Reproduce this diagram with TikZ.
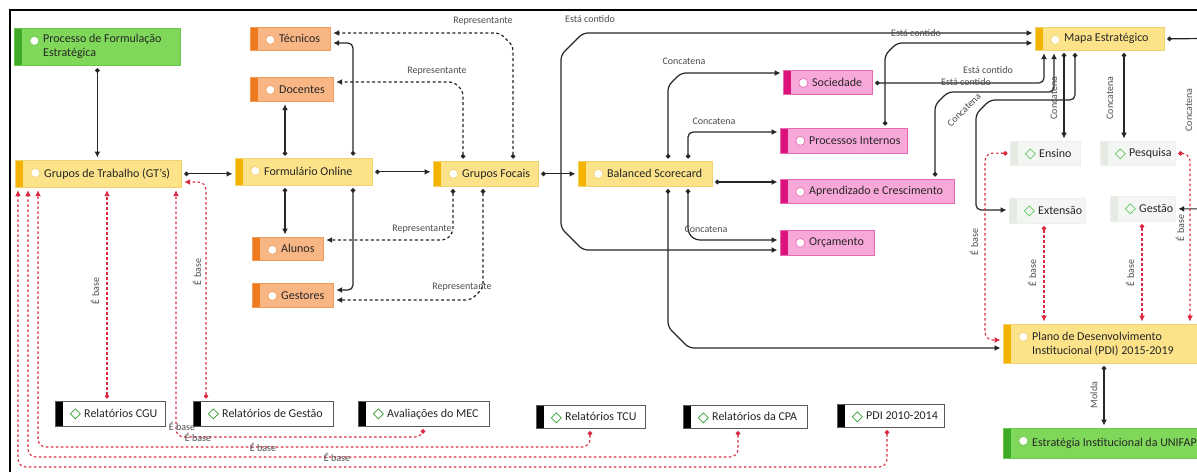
\documentclass[tikz,border=0pt]{standalone}
\usepackage{fontspec}
\setmainfont{Carlito}
\usetikzlibrary{arrows.meta}
\definecolor{yfill}{HTML}{FCE38A}
\definecolor{ystrip}{HTML}{F3B300}
\definecolor{yborder}{HTML}{F0D26E}
\definecolor{ofill}{HTML}{F8B684}
\definecolor{ostrip}{HTML}{EF7A1E}
\definecolor{oborder}{HTML}{F09C5C}
\definecolor{gfill}{HTML}{80D85A}
\definecolor{gstrip}{HTML}{3FAA2A}
\definecolor{gborder}{HTML}{6CC84B}
\definecolor{pfill}{HTML}{F8A8D8}
\definecolor{pstrip}{HTML}{DE127D}
\definecolor{pborder}{HTML}{E468B2}
\definecolor{lfill}{HTML}{F4F6F3}
\definecolor{lstrip}{HTML}{E5EBE3}
\definecolor{lborder}{HTML}{EEF0EE}
\definecolor{redc}{HTML}{DC2840}
\tikzset{
  wh/.style 2 args={minimum width=#1pt, minimum height=#2pt},
  btxt/.style={anchor=west, xshift=29pt, align=left, inner sep=0pt,
    font=\fontsize{12}{14}\selectfont, text=black!85},
  lab/.style={label={[btxt]west:{#1}}},
  cbx/.style n args={3}{rectangle, anchor=north west, inner sep=0pt, fill=#1, draw=#3, line width=0.7pt,
    path picture={
      \fill[#2] (path picture bounding box.south west) rectangle ([xshift=8pt]path picture bounding box.north west);
      \filldraw[fill=white, draw=#3, line width=0.6pt] ([xshift=20pt,yshift=-12.5pt]path picture bounding box.north west) circle (4.5pt);
    }},
  dbx/.style n args={4}{rectangle, anchor=north west, inner sep=0pt, fill=#1, draw=#3, line width=0.7pt,
    path picture={
      \fill[#2] (path picture bounding box.south west) rectangle ([xshift=8pt]path picture bounding box.north west);
      \coordinate (ic) at ([xshift=20pt,yshift=-12.5pt]path picture bounding box.north west);
      \draw[#4, line width=0.6pt] ([yshift=5pt]ic) -- ([xshift=5pt]ic) -- ([yshift=-5pt]ic) -- ([xshift=-5pt]ic) -- cycle;
    }},
  ybox/.style={cbx={yfill}{ystrip}{yborder}},
  obox/.style={cbx={ofill}{ostrip}{oborder}},
  gbox/.style={cbx={gfill}{gstrip}{gborder}},
  pbox/.style={cbx={pfill}{pstrip}{pborder}},
  wbox/.style={dbx={white}{black}{black!65}{green!55!black}},
  lbox/.style={dbx={lfill}{lstrip}{lborder}{green!50!gray}},
  con/.style={draw=black!85, line width=1.2pt, {Circle[length=4.5pt]}-{Latex[length=6pt,width=6pt]},
    shorten <=2.5pt, shorten >=2.5pt, rounded corners=5pt},
  con2/.style={con, {Latex[length=6pt,width=6pt]}-{Latex[length=6pt,width=6pt]}},
  rep/.style={con, dash pattern=on 3pt off 2.5pt},
  bas/.style={con, draw=redc, line width=1.1pt, dash pattern=on 2.5pt off 2.5pt, rounded corners=8pt},
  lbl/.style={font=\fontsize{10}{11}\selectfont, text=black!70, inner sep=0.5pt},
  vlbl/.style={lbl, rotate=90},
}
\begin{document}
\begin{tikzpicture}[x=1pt,y=-1pt]
\useasboundingbox (0,0) rectangle (1197,472);
\clip (0,0) rectangle (1197,472);
\draw[line width=2pt] (10,472) -- (10,10) -- (1197,10);

% nodes
\node[gbox, wh={166}{37}, lab={Processo de Formulação\\Estratégica}] (proc) at (14,28) {};
\node[obox, wh={80}{23}, lab={Técnicos}] (tec) at (250,27) {};
\node[obox, wh={83}{24}, lab={Docentes}] (doc) at (250,77) {};
\node[ybox, wh={166}{27}, lab={Grupos de Trabalho (GT’s)}] (gt) at (15,160) {};
\node[ybox, wh={137}{27}, lab={Formulário Online}] (form) at (235,158) {};
\node[ybox, wh={105}{25}, lab={Grupos Focais}] (gf) at (433,161) {};
\node[obox, wh={71}{23}, lab={Alunos}] (alunos) at (252,237) {};
\node[obox, wh={81}{24}, lab={Gestores}] (gest) at (252,283) {};
\node[ybox, wh={134}{25}, lab={Balanced Scorecard}] (bsc) at (578,161) {};
\node[pbox, wh={89}{24}, lab={Sociedade}] (soc) at (783,70) {};
\node[pbox, wh={127}{25}, lab={Processos Internos}] (pint) at (780,128) {};
\node[pbox, wh={174}{24}, lab={Aprendizado e Crescimento}] (apr) at (780,179) {};
\node[pbox, wh={94}{25}, lab={Orçamento}] (orc) at (780,230) {};
\node[ybox, wh={129}{23}, lab={Mapa Estratégico}] (mapa) at (1035,27) {};
\node[lbox, wh={70}{24}, lab={Ensino}] (ensino) at (1010,141) {};
\node[lbox, wh={75}{24}, lab={Pesquisa}] (pesq) at (1100,141) {};
\node[lbox, wh={76}{25}, lab={Extensão}] (ext) at (1009,198) {};
\node[lbox, wh={65}{25}, lab={Gestão}] (gestao) at (1110,196) {};
\node[ybox, wh={220}{39}, lab={Plano de Desenvolvimento\\Institucional (PDI) 2015-2019}] (pdi) at (1003,324) {};
\node[gbox, wh={220}{30}, lab={Estratégia Institucional da UNIFAP}] (estr) at (1003,428) {};
\node[wbox, wh={110}{25}, lab={Relatórios CGU}] (cgu) at (55,401) {};
\node[wbox, wh={140}{25}, lab={Relatórios de Gestão}] (rg) at (193,401) {};
\node[wbox, wh={131}{25}, lab={Avaliações do MEC}] (mec) at (358,401) {};
\node[wbox, wh={109}{23}, lab={Relatórios TCU}] (tcu) at (536,405) {};
\node[wbox, wh={124}{23}, lab={Relatórios da CPA}] (cpa) at (683,405) {};
\node[wbox, wh={107}{23}, lab={PDI 2010-2014}] (pdio) at (837,404) {};

% ports
\coordinate (fT1) at ([xshift=50pt]form.north west);
\coordinate (fT2) at ([xshift=118pt]form.north west);
\coordinate (fB1) at ([xshift=50pt]form.south west);
\coordinate (fB2) at ([xshift=118pt]form.south west);
\coordinate (gT1) at ([xshift=30pt]gf.north west);
\coordinate (gT2) at ([xshift=80pt]gf.north west);
\coordinate (gB1) at ([xshift=20pt]gf.south west);
\coordinate (gB2) at ([xshift=50pt]gf.south west);
\coordinate (bT1) at ([xshift=90pt]bsc.north west);
\coordinate (bT2) at ([xshift=110pt]bsc.north west);
\coordinate (bB1) at ([xshift=90pt]bsc.south west);
\coordinate (bB2) at ([xshift=110pt]bsc.south west);
\coordinate (bR) at ([yshift=-21pt]bsc.north east);
\coordinate (mB3) at ([xshift=29pt]mapa.south west);
\coordinate (mB5) at ([xshift=89pt]mapa.south west);
\coordinate (eB) at ([xshift=35pt]ext.south west);
\coordinate (gsB) at ([xshift=32pt]gestao.south west);
\coordinate (cT) at ([xshift=52pt]cgu.north west);
\coordinate (pB) at ([xshift=101pt]pdi.south west);

% black connectors
\draw[con] (proc.south) -- (proc.south |- gt.north);
\draw[con] (gt.east) -- (gt.east -| form.west);
\draw[con] (fT1) -- (fT1 |- doc.south);
\draw[con] (fT2) |- ([yshift=-16pt]tec.north east);
\draw[con] (fB1) -- (fB1 |- alunos.north);
\draw[con] (fB2) |- ([yshift=-7pt]gest.north east);
\draw[con] (form.east) -- (form.east -| gf.west);
\draw[con] (gf.east) -- (gf.east -| bsc.west);

% Representante
\draw[rep] (gT2) -- (513,46) -- (500,33) -- ([yshift=-6pt]tec.north east);
\draw[rep] (gT1) -- (463,91) -- (454,82) -- ([yshift=-5pt]doc.north east);
\draw[rep] (gB1) -- (453,233) -- (446,240) -- ([yshift=-3pt]alunos.north east);
\draw[rep] (gB2) -- (483,288) -- (471,300) -- ([yshift=-17pt]gest.north east);
\node[lbl] (r1) at (483,21) {Representante};
\node[lbl] (r2) at (437,71) {Representante};
\node[lbl] (r3) at (422,229) {Representante};
\node[lbl] (r4) at (462,287) {Representante};

% BSC
\draw[con] (bT1) -- (668,86) -- (681,73) -- ([yshift=-3pt]soc.north west);
\draw[con] (bT2) |- ([yshift=-4pt]pint.north west);
\draw[con] (bR) -- (bR -| apr.west);
\draw[con] (bB2) -- (688,233) -- (695,240) -- ([yshift=-10pt]orc.north west);
\draw[con] (bB1) -- (668,327) -- (689,348) -- ([yshift=-24pt]pdi.north west);
\node[lbl] (c1) at (684,61) {Concatena};
\node[lbl] (c2) at (714,121) {Concatena};
\node[lbl] (c3) at (706,229) {Concatena};

% Está contido
\draw[con2] ([yshift=-20pt]orc.north west) -- (583,250) -- (561,228) -- (561,55) -- (583,33) -- ([yshift=-6pt]mapa.north west);
\draw[con] ([xshift=105pt]pint.north west) -- (885,55) -- (897,43) -- ([yshift=-16pt]mapa.north west);
\draw[con] ([yshift=-13pt]soc.north east) -| ([xshift=9pt]mapa.south west);
\draw[con] ([xshift=155pt]apr.north west) -- (935,105) -- (948,92) -| ([xshift=19pt]mapa.south west);
\node[lbl] (e1) at (590,19) {Está contido};
\node[lbl] (e2) at (916,33) {Está contido};
\node[lbl] (e3) at (988,70) {Está contido};
\node[lbl] (e4) at (966,82) {Está contido};

% Mapa -> dimensions
\draw[con] ([xshift=40pt]mapa.south west) -- (1075,100) -- (990,100) -- (976,114) |- ([yshift=-12pt]ext.north west);
\draw[con] (mB3) -- (mB3 |- ensino.north);
\draw[con] (mB5) -- (mB5 |- pesq.north);
\draw[con] (mapa.east) -- (1206,38.5) |- (gestao.east);
\node[lbl, rotate=45] (c4) at (964,110) {Concatena};
\node[vlbl] (c5) at (1054,98) {Concatena};
\node[vlbl] (c6) at (1110,98) {Concatena};
\node[vlbl] (c7) at (1189,110) {Concatena};

% É base (PDI)
\draw[bas] (ensino.west) -- (985,153) |- ([yshift=-16pt]pdi.north west);
\draw[bas] (eB) -- (eB |- pdi.north);
\draw[bas] (gsB) -- (gsB |- pdi.north);
\draw[bas] (pesq.east) -| ([xshift=187pt]pdi.north west);
\node[vlbl] (b1) at (974,242) {É base};
\node[vlbl] (b2) at (1032,273) {É base};
\node[vlbl] (b3) at (1130,273) {É base};
\node[vlbl] (b4) at (1180,228) {É base};

% É base (GT)
\draw[bas] (cT) -- (cT |- gt.south);
\draw[bas] ([xshift=13pt]rg.north west) |- ([yshift=-22pt]gt.north east);
\draw[bas] ([xshift=65pt]mec.south west) -- (423,437) -| ([xshift=161pt]gt.south west);
\draw[bas] ([xshift=54pt]tcu.south west) -- (590,447) -| ([xshift=23pt]gt.south west);
\draw[bas] ([xshift=55pt]cpa.south west) -- (738,457) -| ([xshift=13pt]gt.south west);
\draw[bas] ([xshift=50pt]pdio.south west) -- (887,467) -| ([xshift=3pt]gt.south west);
\node[vlbl] (b5) at (95,291) {É base};
\node[vlbl] (b6) at (197,272) {É base};
\node[lbl] (b7) at (182,426) {É base};
\node[lbl] (b8) at (198,437.5) {É base};
\node[lbl] (b9) at (263,447) {É base};
\node[lbl] (b10) at (337,457) {É base};

% Molda
\draw[con] (pB) -- (pB |- estr.north);
\node[vlbl] (m1) at (1094,395) {Molda};
\end{tikzpicture}
\end{document}
